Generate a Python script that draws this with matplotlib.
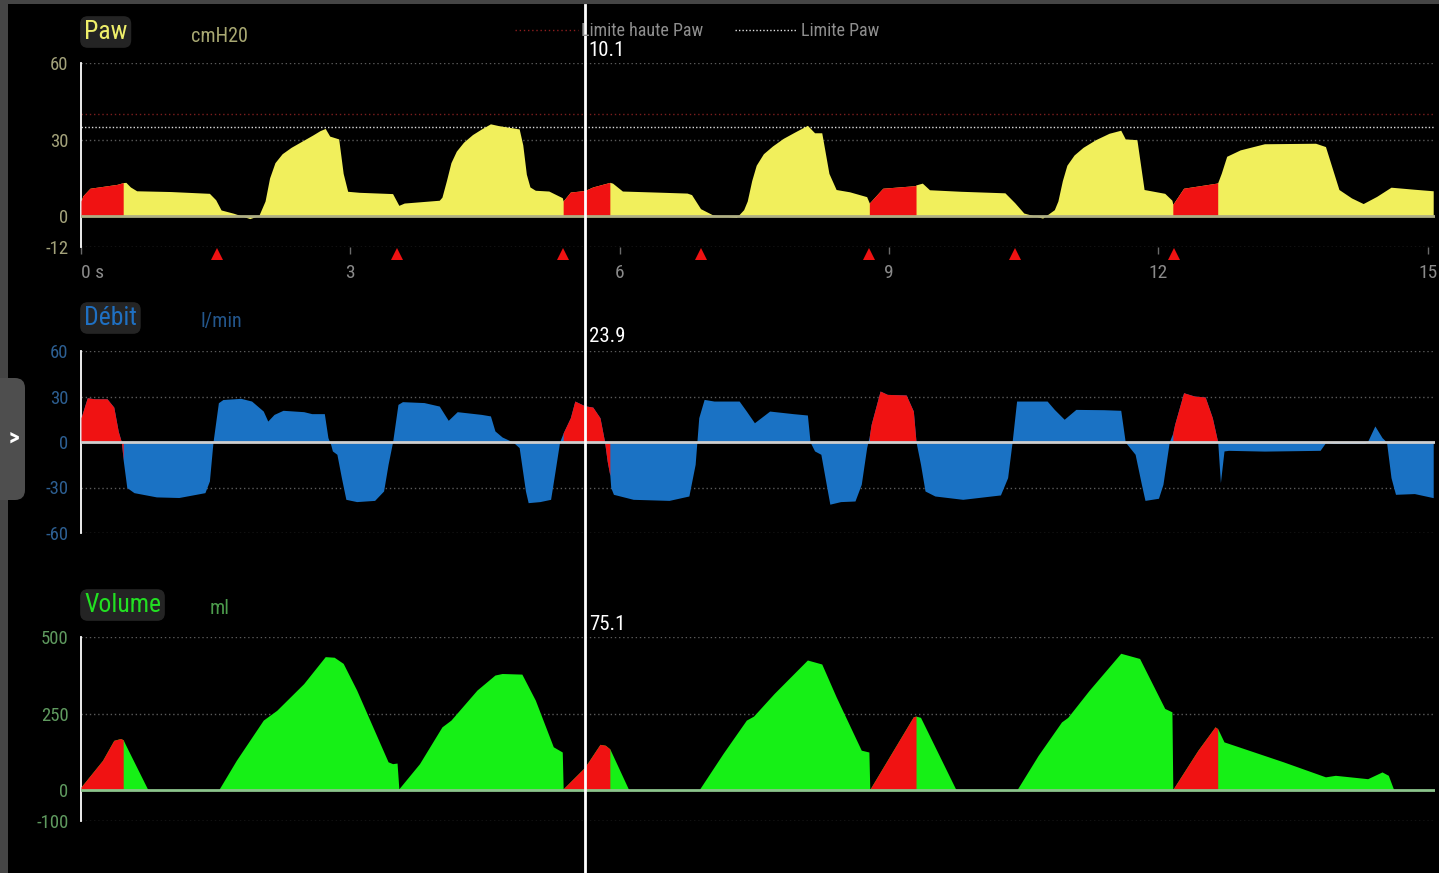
import matplotlib
matplotlib.use('Agg')
import matplotlib.pyplot as plt
import numpy as np
from matplotlib import transforms
from matplotlib.lines import Line2D
from matplotlib.patches import FancyBboxPatch

plt.rcParams['font.family'] = ['Roboto Condensed', 'Liberation Sans Narrow', 'DejaVu Sans']

# pressure trace (s, cmH2O)
paw = [(0.00, 6.0), (0.02, 8.0), (0.10, 11.0), (0.20, 11.5), (0.40, 12.5), (0.47, 13.2),
       (0.50, 13.3), (0.55, 11.5), (0.62, 10.0), (1.00, 9.7), (1.43, 9.0), (1.50, 6.5),
       (1.56, 2.5), (1.70, 1.2), (1.88, -0.9), (1.98, 0.3), (2.05, 6.0), (2.10, 15.0),
       (2.16, 21.0), (2.24, 24.5), (2.34, 27.0), (2.48, 29.8), (2.58, 31.8), (2.66, 33.5),
       (2.72, 34.4), (2.77, 31.4), (2.87, 30.3), (2.92, 16.8), (2.97, 9.8), (3.10, 9.4),
       (3.47, 8.9), (3.54, 4.3), (3.60, 5.2), (3.99, 6.3), (4.02, 7.5), (4.07, 14.0),
       (4.12, 21.0), (4.18, 25.5), (4.26, 29.0), (4.36, 32.0), (4.46, 34.2), (4.56, 36.2),
       (4.65, 35.5), (4.88, 34.2), (4.92, 28.0), (4.96, 16.5), (5.00, 11.5), (5.06, 10.2),
       (5.21, 9.9), (5.36, 7.3), (5.37, 6.0), (5.45, 9.5), (5.61, 10.1), (5.70, 11.5),
       (5.88, 13.2), (5.89, 13.3), (5.92, 13.0), (6.03, 9.9), (6.40, 9.5), (6.75, 9.1),
       (6.80, 8.5), (6.90, 3.0), (7.04, 0.5), (7.30, -0.4), (7.38, 2.6), (7.42, 6.0),
       (7.47, 14.0), (7.52, 20.0), (7.60, 24.5), (7.70, 27.5), (7.82, 30.5), (7.95, 33.0),
       (8.09, 35.6), (8.17, 32.7), (8.25, 32.7), (8.33, 16.8), (8.41, 10.5), (8.56, 9.6),
       (8.75, 7.7), (8.78, 5.2), (8.93, 11.0), (9.29, 12.0), (9.30, 12.3), (9.37, 13.0),
       (9.45, 10.4), (9.80, 9.8), (10.29, 9.2), (10.40, 5.3), (10.50, 1.3), (10.71, -0.7),
       (10.84, 2.6), (10.88, 6.0), (10.93, 14.0), (10.98, 20.0), (11.06, 24.0), (11.16, 27.0),
       (11.30, 30.0), (11.45, 32.5), (11.58, 33.7), (11.63, 30.3), (11.76, 30.0), (11.84, 10.5),
       (12.07, 9.0), (12.15, 6.3), (12.16, 4.7), (12.28, 11.0), (12.65, 13.0), (12.66, 13.2),
       (12.70, 16.9), (12.76, 23.5), (12.91, 26.0), (13.18, 28.4), (13.75, 28.6), (13.86, 27.3),
       (14.01, 10.5), (14.15, 7.2), (14.28, 5.0), (14.43, 7.8), (14.59, 11.4), (14.85, 10.6),
       (15.06, 10.0)]

# flow trace (s, l/min)
flow = [(0.00, 16.0), (0.07, 29.2), (0.15, 28.5), (0.29, 28.5), (0.365, 23.0), (0.415, 7.0),
        (0.45, 0.0), (0.47, -12.0), (0.51, -30.0), (0.59, -33.4), (0.84, -36.2), (1.09, -36.6),
        (1.38, -33.4), (1.43, -25.7), (1.47, 0.0), (1.53, 25.9), (1.58, 28.0), (1.78, 28.8),
        (1.90, 27.0), (2.03, 20.4), (2.08, 13.8), (2.15, 18.2), (2.25, 20.9), (2.48, 20.0),
        (2.57, 18.7), (2.71, 18.7), (2.75, 2.9), (2.78, -1.5), (2.80, -5.9), (2.85, -8.1),
        (2.90, -23.5), (2.95, -37.8), (3.07, -39.3), (3.27, -38.5), (3.37, -32.3), (3.42, -14.7),
        (3.47, 0.0), (3.53, 24.8), (3.58, 26.6), (3.82, 26.0), (3.99, 23.7), (4.09, 14.3),
        (4.19, 20.0), (4.46, 18.2), (4.56, 17.2), (4.61, 7.3), (4.69, 3.3), (4.81, 0.0),
        (4.88, -3.7), (4.95, -32.3), (4.98, -40.0), (5.11, -39.3), (5.23, -37.8), (5.28, -19.1),
        (5.33, 0.0), (5.37, 6.0), (5.45, 16.0), (5.50, 27.0), (5.61, 23.9), (5.70, 23.0),
        (5.78, 16.0), (5.83, 0.7), (5.86, -12.5), (5.89, -22.0), (5.90, -30.0), (5.93, -34.5),
        (6.15, -37.8), (6.55, -38.5), (6.77, -35.6), (6.84, -14.7), (6.88, 16.0), (6.94, 28.1),
        (7.05, 27.0), (7.33, 27.0), (7.41, 20.4), (7.50, 12.7), (7.67, 20.4), (7.93, 18.7),
        (8.09, 17.8), (8.12, 0.0), (8.17, -5.9), (8.24, -8.1), (8.30, -27.9), (8.34, -41.0),
        (8.46, -39.3), (8.62, -38.9), (8.69, -27.9), (8.75, -3.7), (8.78, 4.0), (8.80, 11.6),
        (8.90, 33.6), (8.98, 31.4), (9.19, 31.0), (9.27, 20.4), (9.30, 0.0), (9.35, -14.7),
        (9.40, -32.3), (9.51, -35.6), (9.82, -37.8), (10.24, -34.9), (10.32, -23.5), (10.37, 0.0),
        (10.42, 27.0), (10.76, 27.0), (10.84, 21.5), (10.95, 15.0), (11.08, 21.5), (11.39, 21.3),
        (11.58, 20.9), (11.63, 0.0), (11.68, -3.7), (11.74, -8.1), (11.81, -27.9), (11.85, -38.5),
        (12.00, -37.1), (12.05, -27.9), (12.12, 0.0), (12.16, 6.0), (12.18, 11.6), (12.28, 32.5),
        (12.40, 30.3), (12.52, 29.7), (12.60, 16.0), (12.66, 0.0), (12.69, -26.8), (12.73, -5.9),
        (12.78, -5.5), (13.18, -6.0), (13.80, -5.5), (13.86, -0.5), (13.95, -1.0), (14.30, -1.0),
        (14.33, 0.5), (14.41, 10.6), (14.49, 2.9), (14.54, 0.0), (14.59, -23.5), (14.64, -34.5),
        (14.85, -34.0), (15.06, -36.7)]

# volume trace (s, ml)
volume = [(0.00, 11), (0.24, 98), (0.365, 163), (0.44, 169), (0.47, 165), (0.49, 152),
          (0.74, 5), (0.76, 0), (1.53, 0), (1.73, 98), (2.03, 229), (2.18, 261), (2.48, 348),
          (2.72, 436), (2.82, 434), (2.92, 414), (3.07, 327), (3.42, 93), (3.47, 87), (3.52, 89),
          (3.54, 5), (3.77, 87), (4.02, 207), (4.12, 229), (4.41, 327), (4.61, 376), (4.69, 381),
          (4.91, 379), (5.06, 294), (5.26, 142), (5.36, 125), (5.37, 5), (5.61, 75.1),
          (5.78, 150), (5.84, 147), (5.89, 135), (6.10, 2), (6.12, 0), (6.88, 0), (7.15, 120),
          (7.41, 229), (7.49, 242), (7.72, 316), (8.09, 425), (8.25, 412), (8.41, 305),
          (8.69, 131), (8.775, 125), (8.785, 3), (9.09, 152), (9.27, 240), (9.30, 242),
          (9.35, 238), (9.74, 5), (9.76, 0), (10.42, 0), (10.66, 114), (10.92, 223), (10.99, 238),
          (11.23, 327), (11.58, 447), (11.79, 430), (12.07, 267), (12.15, 256), (12.16, 3),
          (12.44, 131), (12.63, 207), (12.66, 201), (12.73, 158), (13.39, 93), (13.86, 44),
          (13.97, 49), (14.33, 38), (14.49, 60), (14.56, 49), (14.62, 2), (14.64, 0), (15.06, 0)]

# patient-triggered breaths, drawn in red
red_spans = [(0.0, 0.47), (5.37, 5.89), (8.78, 9.30), (12.16, 12.66)]
trigger_t = [1.51, 3.52, 5.37, 6.90, 8.78, 10.40, 12.17]
cursor_t = 5.61
paw_high_limit = 40
paw_limit = 35

time_ticks = [0, 3, 6, 9, 12, 15]
time_labels = ['0 s', '3', '6', '9', '12', '15']

RED = '#f01212'
W, H = 1439, 873

fig = plt.figure(figsize=(W / 100, H / 100), dpi=100, facecolor='black')


def box(x0, y0, x1, y1):
    return [x0 / W, 1 - y1 / H, (x1 - x0) / W, (y1 - y0) / H]


def setup(ax, ylim, ticks, grid, tick_color):
    ax.set_facecolor('black')
    ax.set_xlim(0, 15.08)
    ax.set_ylim(*ylim)
    for s in ['top', 'right', 'bottom']:
        ax.spines[s].set_visible(False)
    ax.spines['left'].set_color('white')
    ax.spines['left'].set_linewidth(1.3)
    ax.set_yticks(ticks)
    ax.set_yticklabels([str(t) for t in ticks])
    ax.tick_params(axis='y', length=0, pad=9, labelsize=13.5, labelcolor=tick_color)
    ax.set_xticks([])
    for g in grid:
        ax.axhline(g, color='#5a5a5a', lw=1, ls=(0, (1, 2)), zorder=1)


def trace(ax, series, color, zero_color):
    t = np.array([p[0] for p in series])
    v = np.array([p[1] for p in series], dtype=float)
    ax.fill_between(t, 0, v, color=color, lw=0, zorder=2)
    for a, b in red_spans:
        m = (t >= a) & (t <= b)
        ax.fill_between(t[m], 0, v[m], color=RED, lw=0, zorder=3)
    ax.axhline(0, color=zero_color, lw=2, zorder=4)
    return np.interp(cursor_t, t, v)


ax_paw = fig.add_axes(box(81, 63, 1435, 247))
ax_flow = fig.add_axes(box(81, 351, 1435, 533))
ax_vol = fig.add_axes(box(81, 637, 1435, 821))

setup(ax_paw, (-12, 60), [60, 30, 0, -12], [60, 30, -12], '#a3a27a')
setup(ax_flow, (-60, 60), [60, 30, 0, -30, -60], [60, 30, -30, -60], '#2d5f92')
setup(ax_vol, (-100, 500), [500, 250, 0, -100], [500, 250, -100], '#5f9a5f')

ax_paw.axhline(paw_high_limit, color='#7c1e1e', lw=1, ls=(0, (1, 2)), zorder=1)
ax_paw.axhline(paw_limit, color='#dcdcdc', lw=1, ls=(0, (1, 1.5)), zorder=1)

paw_now = trace(ax_paw, paw, '#f1ef5c', '#aeae84')
flow_now = trace(ax_flow, flow, '#1a72c4', '#cfcfcf')
vol_now = trace(ax_vol, volume, '#16f016', '#8cc48c')

ax_paw.plot(trigger_t, [-14.7] * len(trigger_t), '^', color=RED, ms=9, mew=0, clip_on=False)

ax_paw.set_xticks(time_ticks)
ax_paw.set_xticklabels(time_labels)
ax_paw.tick_params(axis='x', length=5, width=1, color='#6a6a6a', pad=7, labelsize=14,
                   labelcolor='#8a8a8a')
ax_paw.get_xticklabels()[0].set_ha('left')

# cursor line across the three panels
trans = transforms.blended_transform_factory(ax_paw.transData, fig.transFigure)
fig.add_artist(Line2D([cursor_t, cursor_t], [0, 1 - 5 / H], transform=trans, color='white', lw=2))
off = transforms.offset_copy(trans, fig=fig, x=4, y=0, units='dots')
for val, y in [(paw_now, 50), (flow_now, 337), (vol_now, 624)]:
    fig.text(cursor_t, 1 - y / H, f'{val:.1f}', transform=off, color='white', fontsize=15,
             ha='left', va='center')

# panel titles and units
for name, unit, y, ux, col, ucol in [('Paw', 'cmH20', 32, 191, '#eeee6a', '#a8a872'),
                                     ('Débit', 'l/min', 318, 200, '#1f70c2', '#23568c'),
                                     ('Volume', 'ml', 605, 210, '#22e022', '#4c9c4c')]:
    fig.text(84 / W, 1 - y / H, name, color=col, fontsize=18.5, ha='left', va='center',
             bbox=dict(boxstyle='round,pad=0.15,rounding_size=0.3', fc='#242424', ec='none'))
    fig.text(ux / W, 1 - (y + 4) / H, unit, color=ucol, fontsize=14.5, ha='left', va='center')

# limit legend
fig.add_artist(Line2D([515 / W, 578 / W], [1 - 30 / H] * 2, color='#8c1e1e', lw=1, ls=(0, (1, 2))))
fig.text(581 / W, 1 - 31 / H, 'Limite haute Paw', color='#8e8e8e', fontsize=13, va='center')
fig.add_artist(Line2D([735 / W, 797 / W], [1 - 30 / H] * 2, color='#e0e0e0', lw=1, ls=(0, (1, 1.5))))
fig.text(801 / W, 1 - 31 / H, 'Limite Paw', color='#8e8e8e', fontsize=13, va='center')

# frame and side tab
fig.add_artist(plt.Rectangle((0, 0), 8 / W, 1, transform=fig.transFigure, color='#454545', lw=0))
fig.add_artist(plt.Rectangle((0, 1 - 4 / H), 1, 4 / H, transform=fig.transFigure, color='#454545', lw=0))
fig.add_artist(FancyBboxPatch((-0.1, (H - 500) / 100), 0.35, 1.22,
                              boxstyle='round,pad=0,rounding_size=0.1',
                              transform=fig.dpi_scale_trans, fc='#4e4e4e', ec='none'))
fig.text(14 / W, 1 - 438 / H, '>', color='white', fontsize=17, ha='center', va='center',
         fontweight='bold')

fig.savefig('out.png', dpi=100, facecolor='black')
